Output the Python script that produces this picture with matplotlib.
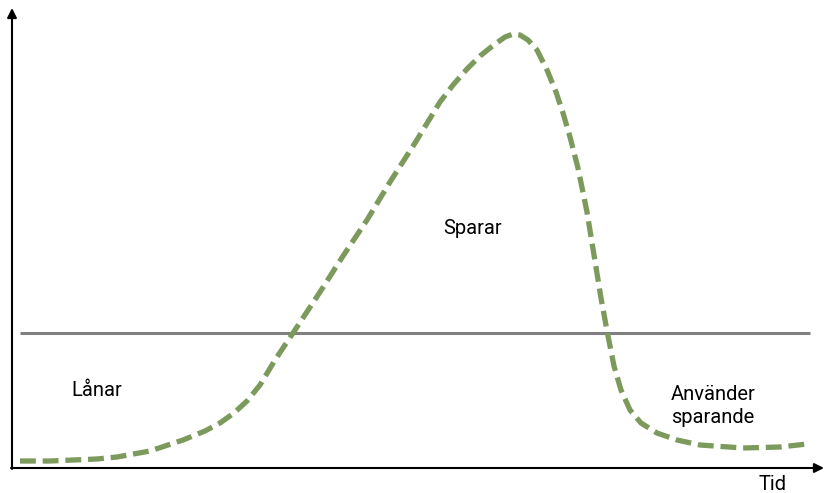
import matplotlib
matplotlib.use("Agg")
import matplotlib.pyplot as plt
from matplotlib import font_manager

# --- data (time, level) ---
time = [20, 50, 97, 117, 150, 183, 205, 220, 234, 247, 260, 275, 295, 320, 343, 367,
        390, 415, 440, 453, 467, 480, 490, 498, 505, 513, 520, 528, 537, 547,
        556, 563, 570, 578, 587, 594, 601, 608, 614, 621, 630, 641, 657, 677,
        700, 743, 780, 807]
pos_y = [461, 461, 459, 457, 451, 440, 431, 423, 413, 401, 385, 360, 330, 292, 256, 220,
         182, 143, 102, 85, 69, 56, 48, 42, 37, 34, 35, 40, 50, 70,
         92, 113, 137, 168, 212, 255, 298, 336, 366, 390, 410, 423, 433, 440,
         445, 448, 447, 444]
level = [493 - p for p in pos_y]
baseline = 493 - 333
labels = ["Lånar", "Sparar", "Använder\nsparande"]
label_xy = [(97, 493 - 391), (473, 493 - 229), (713, 493 - 406)]

names = {f.name for f in font_manager.fontManager.ttflist}
fam = ["Liberation Sans Narrow", "Roboto", "DejaVu Sans"]
fam = [f for f in fam if f in names] or ["DejaVu Sans"]
plt.rcParams["font.family"] = fam

fig = plt.figure(figsize=(8.25, 4.93), dpi=100)
ax = fig.add_axes([0, 0, 1, 1])
ax.set_xlim(0, 825)
ax.set_ylim(0, 493)
ax.axis("off")

# axes with arrows
ax.annotate("", xy=(12, 493 - 8), xytext=(12, 493 - 469),
            arrowprops=dict(arrowstyle="-|>", color="black", lw=1.5,
                            mutation_scale=14, shrinkA=0, shrinkB=0))
ax.annotate("", xy=(824, 493 - 468), xytext=(11, 493 - 468),
            arrowprops=dict(arrowstyle="-|>", color="black", lw=1.5,
                            mutation_scale=14, shrinkA=0, shrinkB=0))

# zero line
ax.plot([20, 810], [baseline, baseline], color="#808080", lw=2.2,
        solid_capstyle="butt")

# savings curve
ax.plot(time, level, color="#7c9a5c", lw=3.8, linestyle=(0, (3.0, 1.3)),
        dash_capstyle="butt", solid_joinstyle="round")

for txt, (x, y) in zip(labels, label_xy):
    ax.text(x, y, txt, ha="center", va="center", fontsize=14.5,
            linespacing=1.3)

ax.text(773, 493 - 484, "Tid", ha="center", va="center", fontsize=14.5)

fig.savefig("out.png", dpi=100)
